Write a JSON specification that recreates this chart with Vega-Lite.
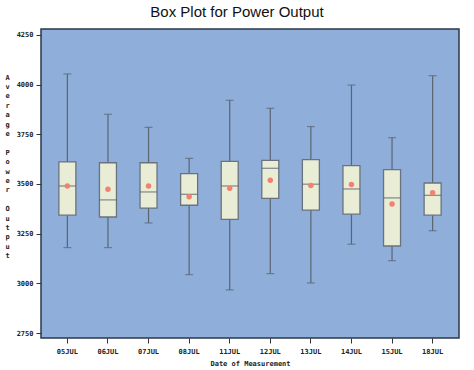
{
  "$schema": "https://vega.github.io/schema/vega-lite/v6.json",
  "autosize": "none",
  "width": 418,
  "height": 309,
  "padding": {"left": 41, "top": 29, "right": 15, "bottom": 32},
  "background": "white",
  "title": {
    "text": "Box Plot for Power Output",
    "font": "Liberation Sans",
    "fontSize": 15,
    "fontWeight": "normal",
    "color": "#111111",
    "offset": 9,
    "dx": -13
  },
  "data": {
    "values": [
      {"date": "05JUL", "lo": 3180, "q1": 3343, "med": 3490, "q3": 3611, "hi": 4054, "mean": 3490},
      {"date": "06JUL", "lo": 3180, "q1": 3334, "med": 3420, "q3": 3607, "hi": 3851, "mean": 3473},
      {"date": "07JUL", "lo": 3304, "q1": 3379, "med": 3460, "q3": 3607, "hi": 3785, "mean": 3490},
      {"date": "08JUL", "lo": 3044, "q1": 3393, "med": 3448, "q3": 3552, "hi": 3629, "mean": 3436},
      {"date": "11JUL", "lo": 2967, "q1": 3322, "med": 3490, "q3": 3614, "hi": 3921, "mean": 3478},
      {"date": "12JUL", "lo": 3049, "q1": 3428, "med": 3579, "q3": 3619, "hi": 3881, "mean": 3519},
      {"date": "13JUL", "lo": 3002, "q1": 3369, "med": 3499, "q3": 3623, "hi": 3789, "mean": 3492},
      {"date": "14JUL", "lo": 3197, "q1": 3348, "med": 3475, "q3": 3592, "hi": 3998, "mean": 3497},
      {"date": "15JUL", "lo": 3114, "q1": 3188, "med": 3430, "q3": 3572, "hi": 3733, "mean": 3399},
      {"date": "18JUL", "lo": 3265, "q1": 3343, "med": 3443, "q3": 3505, "hi": 4045, "mean": 3456}
    ]
  },
  "encoding": {
    "x": {
      "field": "date",
      "type": "nominal",
      "sort": null,
      "scale": {"type": "band", "paddingInner": 0, "paddingOuter": 0.15},
      "axis": {
        "title": "Date of Measurement",
        "labelAngle": 0,
        "labelFont": "DejaVu Sans Mono",
        "labelFontSize": 7,
        "labelFontWeight": "bold",
        "labelColor": "#222222",
        "titleFont": "DejaVu Sans Mono",
        "titleFontSize": 7,
        "titleFontWeight": "bold",
        "titleColor": "#222222",
        "titlePadding": 5,
        "tickSize": 5,
        "tickColor": "#333333",
        "labelPadding": 4,
        "domain": false,
        "grid": false
      }
    }
  },
  "layer": [
    {
      "mark": {"type": "rule", "color": "#5B6572", "strokeWidth": 1.2},
      "encoding": {
        "y": {
          "field": "lo",
          "type": "quantitative",
          "scale": {"domain": [2725, 4280], "nice": false, "zero": false},
          "axis": {
            "title": ["A","v","e","r","a","g","e","\u200b","P","o","w","e","r","\u200b","O","u","t","p","u","t"],
            "titleAngle": 0,
            "titleFont": "DejaVu Sans Mono",
            "titleFontSize": 7,
            "titleFontWeight": "bold",
            "titleColor": "#222222",
            "titleLineHeight": 9.4,
            "titleX": -34,
            "titleY": 44,
            "titleAlign": "center",
            "titleBaseline": "top",
            "values": [2750, 3000, 3250, 3500, 3750, 4000, 4250],
            "format": "d",
            "labelFont": "DejaVu Sans Mono",
            "labelFontSize": 7,
            "labelFontWeight": "bold",
            "labelColor": "#222222",
            "tickSize": 5,
            "tickColor": "#333333",
            "labelPadding": 3,
            "domain": false,
            "grid": false
          }
        },
        "y2": {"field": "hi"}
      }
    },
    {
      "mark": {"type": "tick", "color": "#5B6572", "thickness": 1.2, "size": 8},
      "encoding": {"y": {"field": "lo", "type": "quantitative"}}
    },
    {
      "mark": {"type": "tick", "color": "#5B6572", "thickness": 1.2, "size": 8},
      "encoding": {"y": {"field": "hi", "type": "quantitative"}}
    },
    {
      "mark": {"type": "bar", "size": 17, "fill": "#E9EDD6", "stroke": "#6A737D", "strokeWidth": 1.3},
      "encoding": {
        "y": {"field": "q1", "type": "quantitative"},
        "y2": {"field": "q3"}
      }
    },
    {
      "mark": {"type": "tick", "color": "#5B6572", "thickness": 1.3, "size": 17},
      "encoding": {"y": {"field": "med", "type": "quantitative"}}
    },
    {
      "mark": {"type": "circle", "color": "#F0826F", "opacity": 1, "size": 30},
      "encoding": {"y": {"field": "mean", "type": "quantitative"}}
    }
  ],
  "config": {
    "view": {"fill": "#8FAEDA", "stroke": "#2B3848", "strokeWidth": 1.5}
  }
}
